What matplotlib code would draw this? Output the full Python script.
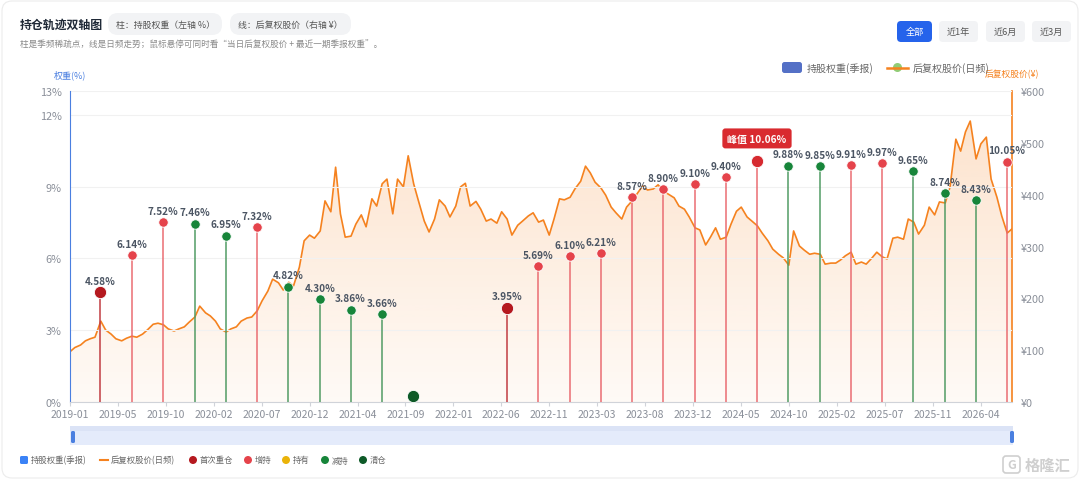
import numpy as np
import pandas as pd
import matplotlib
matplotlib.use("Agg")
import matplotlib.pyplot as plt
import matplotlib.dates as mdates
from matplotlib.patches import FancyBboxPatch, Polygon, Circle
from matplotlib.lines import Line2D
from matplotlib.colors import LinearSegmentedColormap, to_rgba
from matplotlib.transforms import offset_copy

plt.rcParams['font.family'] = ['Noto Sans CJK SC', 'DejaVu Sans']

# 季报：持股权重(%) 与动作
quarters = ['2019-03-31', '2019-06-30', '2019-09-30', '2019-12-31', '2020-03-31', '2020-06-30',
            '2020-09-30', '2020-12-31', '2021-03-31', '2021-06-30', '2021-09-30',
            '2022-06-30', '2022-09-30', '2022-12-31', '2023-03-31', '2023-06-30', '2023-09-30',
            '2023-12-31', '2024-03-31', '2024-06-30', '2024-09-30', '2024-12-31', '2025-03-31',
            '2025-06-30', '2025-09-30', '2025-12-31', '2026-03-31', '2026-06-30']
weights = [4.58, 6.14, 7.52, 7.46, 6.95, 7.32, 4.82, 4.30, 3.86, 3.66, 0.0,
           3.95, 5.69, 6.10, 6.21, 8.57, 8.90, 9.10, 9.40, 10.06, 9.88, 9.85, 9.91,
           9.97, 9.65, 8.74, 8.43, 10.05]
actions = ['首次重仓', '增持', '增持', '减持', '减持', '增持', '减持', '减持', '减持', '减持', '清仓',
           '首次重仓', '增持', '增持', '增持', '增持', '增持', '增持', '增持', '增持', '减持', '减持', '增持',
           '增持', '减持', '减持', '减持', '增持']

# 后复权股价(¥)，半月取样，自 2019-01-01 起
price_start = '2019-01-01'
price = [97, 105, 110, 118, 122, 125, 156, 139, 131, 122,
         118, 123, 127, 125, 131, 139, 150, 152, 149, 141,
         137, 141, 145, 154, 164, 185, 172, 166, 156, 141,
         135, 141, 145, 156, 162, 164, 176, 195, 214, 237,
         230, 216, 231, 224, 260, 311, 322, 316, 330, 388,
         367, 453, 363, 318, 320, 343, 361, 338, 392, 378,
         421, 430, 363, 430, 415, 475, 421, 388, 349, 328,
         353, 390, 378, 357, 378, 415, 422, 378, 387, 372,
         349, 353, 345, 367, 353, 322, 341, 349, 359, 365,
         347, 351, 322, 353, 392, 390, 395, 411, 426, 455,
         442, 424, 413, 399, 376, 365, 353, 376, 388, 401,
         417, 409, 411, 419, 407, 401, 394, 378, 372, 357,
         336, 332, 303, 318, 336, 314, 318, 343, 368, 376,
         357, 349, 340, 326, 311, 295, 285, 278, 264, 330,
         301, 293, 285, 287, 285, 266, 268, 268, 274, 282,
         289, 266, 270, 266, 278, 289, 280, 276, 316, 318,
         314, 353, 347, 324, 341, 376, 361, 386, 384, 415,
         507, 484, 521, 542, 469, 498, 511, 430, 395, 359,
         326, 334]

tick_labels = ['2019-01', '2019-05', '2019-10', '2020-02', '2020-07', '2020-12', '2021-04',
               '2021-09', '2022-01', '2022-06', '2022-11', '2023-03', '2023-08', '2023-12',
               '2024-05', '2024-10', '2025-02', '2025-07', '2025-11', '2026-04']
left_ticks = [0, 3, 6, 9, 12, 13]
right_ticks = [0, 100, 200, 300, 400, 500, 600]

legend_items = ['首次重仓', '增持', '持有', '减持', '清仓']
dot_color = {'首次重仓': '#b5191f', '增持': '#e5434b', '持有': '#eab308',
             '减持': '#17853a', '清仓': '#0e5a28'}
stem_color = {'首次重仓': '#c0393f', '增持': '#ea6a70', '持有': '#eab308',
              '减持': '#4f9a62', '清仓': '#2d6b3d'}

ORANGE = '#f5821f'
BLUE = '#4a7fe0'

W, H = 1080, 481
fig = plt.figure(figsize=(W / 100, H / 100), dpi=100)
fig.patch.set_facecolor('white')
inch = fig.dpi_scale_trans


def px(x, y):
    return x / 100, (H - y) / 100


def box(x, y, w, h, color, r=4, ec='none', lw=0, z=1):
    x0, y0 = px(x, y + h)
    p = FancyBboxPatch((x0, y0), w / 100, h / 100,
                       boxstyle=f'round,pad=0,rounding_size={r / 100}',
                       fc=color, ec=ec, lw=lw, transform=inch, zorder=z)
    fig.add_artist(p)


def text(x, y, s, **kw):
    fig.text(*px(x, y), s, transform=inch, **kw)


# 卡片边框（放在最底层）
box(2, 2, W - 4, H - 4, 'white', r=10, ec='#ececec', lw=0.8, z=-5)

# 主图
ax = fig.add_axes([70 / W, 1 - 403 / H, (1012 - 70) / W, (403 - 92) / H])
ax2 = ax.twinx()
ax.set_zorder(ax2.get_zorder() + 1)
ax.patch.set_visible(False)
ax2.patch.set_visible(False)

pdates = pd.date_range(price_start, periods=len(price), freq='SMS')
xnum = mdates.date2num(pdates)
price = np.array(price, dtype=float)

# 渐变面积
cmap = LinearSegmentedColormap.from_list('fade', [to_rgba(ORANGE, 0.04), to_rgba(ORANGE, 0.22)])
grad = np.linspace(0, 1, 256).reshape(-1, 1)
im = ax2.imshow(grad, extent=[xnum[0], xnum[-1], 0, price.max()], origin='lower',
                aspect='auto', cmap=cmap, zorder=1)
verts = [(xnum[0], 0)] + list(zip(xnum, price)) + [(xnum[-1], 0)]
clip = Polygon(verts, closed=True, fc='none', ec='none', transform=ax2.transData)
ax2.add_patch(clip)
im.set_clip_path(clip)
ax2.plot(xnum, price, color=ORANGE, lw=1.2, zorder=2)
ax2.set_ylim(0, 600)
ax2.set_yticks(right_ticks)
ax2.set_yticklabels([f'¥{v}' for v in right_ticks])

# 季报权重：竖线 + 圆点
qnum = mdates.date2num(pd.to_datetime(quarters))
peak = int(np.argmax(weights))
for i, (d, w, a) in enumerate(zip(qnum, weights, actions)):
    if w > 0:
        ax.vlines(d, 0, w, color=stem_color[a], lw=1.2, alpha=0.9, zorder=3)
    big = a in ('首次重仓', '清仓') or i == peak
    c = '#d62a30' if i == peak else dot_color[a]
    tr = offset_copy(ax.transData, fig=fig, y=4, units='points') if w == 0 else ax.transData
    ax.plot([d], [w], 'o', ms=8.8 if big else 6.8, color=c, mec='white', mew=0.6,
            transform=tr, clip_on=False, zorder=5)
    if i == peak:
        ax.annotate(f'峰值 {w:.2f}%', (d, w), xytext=(0, 16.5), textcoords='offset points',
                    ha='center', va='center', fontsize=7.2, fontweight='bold', color='white',
                    bbox=dict(boxstyle='round,pad=0.5,rounding_size=0.3', fc='#d92a2f', ec='none'),
                    zorder=6)
    elif w > 0:
        ax.annotate(f'{w:.2f}%', (d, w), xytext=(0, 4.5), textcoords='offset points',
                    ha='center', va='bottom', fontsize=7.2, fontweight='bold', color='#4b5563',
                    zorder=6)

ax.set_ylim(0, 13)
ax.set_yticks(left_ticks)
ax.set_yticklabels([f'{v}%' for v in left_ticks])
tick_num = xnum[0] + np.arange(len(tick_labels)) * 140
ax.set_xticks(tick_num)
ax.set_xticklabels(tick_labels)
ax.set_xlim(xnum[0], xnum[-1])

ax.yaxis.grid(True, color='#f1f1f1', lw=0.8)
ax.set_axisbelow(True)
for a_ in (ax, ax2):
    a_.spines['top'].set_visible(False)
    a_.tick_params(axis='y', length=0, labelsize=7.8, labelcolor='#8a8f99', pad=6)
ax.spines['left'].set_color(BLUE)
ax.spines['right'].set_visible(False)
ax.spines['bottom'].set_color('#d0d3d9')
ax2.spines['left'].set_visible(False)
ax2.spines['bottom'].set_visible(False)
ax2.spines['right'].set_color(ORANGE)
ax2.spines['right'].set_linewidth(1.2)
ax.tick_params(axis='x', length=3, color='#d0d3d9', labelsize=7.5, labelcolor='#8a8f99', pad=2)

# 轴标题
text(70, 75, '权重(%)', fontsize=6.5, color=BLUE, ha='center', va='center')
text(1012, 75, '后复权股价(¥)', fontsize=6.3, color=ORANGE, ha='center', va='center')

# 顶部图例
box(782, 63, 20, 11, '#5470c6', r=2.5)
text(807, 68.5, '持股权重(季报)', fontsize=7.2, color='#666666', va='center')
fig.add_artist(Line2D([887 / 100, 908 / 100], [(H - 68.5) / 100] * 2, color=ORANGE, lw=1.8,
                      transform=inch))
fig.add_artist(Circle(px(897.5, 68.5), 0.045, fc='#91cc75', ec='none', transform=inch))
text(913, 68.5, '后复权股价(日频)', fontsize=7.2, color='#666666', va='center')

# 标题区
text(20, 25, '持仓轨迹双轴图', fontsize=8.6, fontweight='bold', color='#1f2937', va='center')
box(108, 14, 114, 22, '#f2f3f5', r=10)
text(165, 25, '柱：持股权重（左轴 %）', fontsize=6.4, color='#555555', ha='center', va='center')
box(230, 14, 121, 22, '#f2f3f5', r=10)
text(290.5, 25, '线：后复权股价（右轴 ¥）', fontsize=6.4, color='#555555', ha='center', va='center')
text(20, 45, '柱是季频稀疏点，线是日频走势；鼠标悬停可同时看“当日后复权股价 + 最近一期季报权重”。',
     fontsize=6.2, color='#8a8a8a', va='center')

buttons = ['全部', '近1年', '近6月', '近3月']
bx = [897, 939, 986, 1032]
bw = [35, 39, 39, 39]
for s, x0, w in zip(buttons, bx, bw):
    active = s == '全部'
    box(x0, 22, w, 21, '#2563eb' if active else '#f2f3f5', r=4)
    text(x0 + w / 2, 32.5, s, fontsize=6.6, color='white' if active else '#555555',
         ha='center', va='center')

# 缩放条
box(70, 427, 943, 19, '#e4ebfb', r=0)
box(70, 427, 943, 5, '#dbe3f6', r=0)
box(71, 432, 4, 12, BLUE, r=1.5)
box(1010, 432, 4, 12, BLUE, r=1.5)

# 底部图例
box(20, 457, 8, 8, '#3b82f6', r=1.5)
text(31, 461, '持股权重(季报)', fontsize=6, color='#666666', va='center')
fig.add_artist(Line2D([100 / 100, 108 / 100], [(H - 461) / 100] * 2, color=ORANGE, lw=1.5,
                      transform=inch))
text(111, 461, '后复权股价(日频)', fontsize=6, color='#666666', va='center')
lx = [193, 248, 286, 325, 363]
for s, x0 in zip(legend_items, lx):
    fig.add_artist(Circle(px(x0, 461), 0.04, fc=dot_color[s], ec='none', transform=inch))
    text(x0 + 7, 461, s, fontsize=6, color='#666666', va='center')

# 水印
box(1003, 457, 17, 17, 'none', r=3, ec='#cfcfcf', lw=1.2)
text(1011.5, 465.5, 'G', fontsize=9, color='#cfcfcf', fontweight='bold', ha='center', va='center')
text(1025, 465.5, '格隆汇', fontsize=11, color='#cfcfcf', fontweight='bold', va='center')

fig.savefig('out.png', dpi=100)
